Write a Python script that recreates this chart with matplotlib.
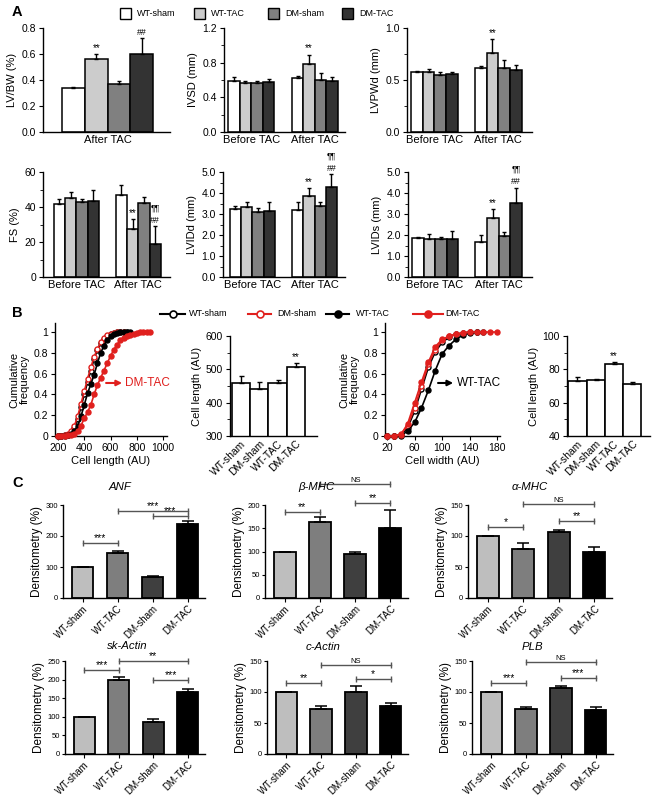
import matplotlib
matplotlib.use('Agg')
import matplotlib.pyplot as plt
from matplotlib.lines import Line2D
from matplotlib.patches import Rectangle
from matplotlib.ticker import MultipleLocator, FormatStrFormatter

plt.rcParams['font.family'] = ['Liberation Sans', 'DejaVu Sans']
plt.rcParams['axes.spines.top'] = False
plt.rcParams['axes.spines.right'] = False
plt.rcParams['axes.linewidth'] = 1.0

W, H = 660, 798
RED = '#e0201e'

# ---------------- panel A: echo (mean, SEM) ----------------
groups_a = ['WT-sham', 'WT-TAC', 'DM-sham', 'DM-TAC']
colors_a = ['#ffffff', '#cccccc', '#808080', '#333333']

lvbw = [0.34, 0.56, 0.37, 0.60]
lvbw_err = [0.01, 0.04, 0.02, 0.12]

ivsd_before = [0.59, 0.57, 0.56, 0.58]
ivsd_before_err = [0.04, 0.02, 0.03, 0.03]
ivsd_after = [0.62, 0.78, 0.60, 0.59]
ivsd_after_err = [0.03, 0.11, 0.08, 0.04]

lvpwd_before = [0.58, 0.58, 0.55, 0.56]
lvpwd_before_err = [0.01, 0.03, 0.03, 0.02]
lvpwd_after = [0.62, 0.76, 0.62, 0.60]
lvpwd_after_err = [0.01, 0.13, 0.07, 0.04]

fs_before = [41.5, 45.3, 42.7, 43.4]
fs_before_err = [3.1, 3.5, 1.7, 6.3]
fs_after = [46.9, 27.4, 42.1, 19.0]
fs_after_err = [5.7, 5.6, 3.8, 10.1]

lvidd_before = [3.22, 3.32, 3.10, 3.14]
lvidd_before_err = [0.16, 0.27, 0.17, 0.42]
lvidd_after = [3.19, 3.86, 3.40, 4.30]
lvidd_after_err = [0.37, 0.36, 0.19, 0.59]

lvids_before = [1.87, 1.81, 1.79, 1.79]
lvids_before_err = [0.05, 0.22, 0.13, 0.41]
lvids_after = [1.68, 2.79, 1.95, 3.51]
lvids_after_err = [0.32, 0.43, 0.21, 0.74]

# ---------------- panel B: myocyte size ----------------
cl_x = [200, 225, 250, 275, 300, 325, 350, 375, 400, 425, 450, 475, 500, 525, 550,
        575, 600, 625, 650, 675, 700, 725, 750, 775, 800, 825, 850, 875, 900]
cl_wt_sham = [0, 0, 0.005, 0.01, 0.03, 0.08, 0.16, 0.28, 0.40, 0.52, 0.63, 0.74, 0.83, 0.89,
              0.93, 0.96, 0.98, 0.99, 1, 1, 1, 1]
cl_dm_sham = [0, 0, 0.01, 0.02, 0.05, 0.10, 0.19, 0.31, 0.43, 0.55, 0.66, 0.76, 0.84, 0.90,
              0.94, 0.97, 0.98, 0.99, 1, 1, 1]
cl_wt_tac = [0, 0, 0, 0.01, 0.02, 0.05, 0.10, 0.19, 0.30, 0.41, 0.50, 0.59, 0.70, 0.80,
             0.87, 0.92, 0.96, 0.98, 0.99, 1, 1, 1, 1]
cl_dm_tac = [0, 0, 0, 0.005, 0.01, 0.02, 0.05, 0.10, 0.17, 0.23, 0.30, 0.40, 0.49, 0.56,
             0.63, 0.70, 0.77, 0.83, 0.88, 0.92, 0.94, 0.96, 0.97, 0.98, 0.99, 1, 1, 1, 1]

cw_x = [20, 30, 40, 50, 60, 70, 80, 90, 100, 110, 120, 130, 140, 150, 160, 170, 180]
cw_wt_sham = [0, 0, 0.01, 0.08, 0.24, 0.45, 0.66, 0.81, 0.90, 0.95, 0.98, 0.99, 1, 1]
cw_dm_sham = [0, 0, 0.02, 0.10, 0.27, 0.48, 0.69, 0.83, 0.92, 0.96, 0.98, 0.99, 1]
cw_wt_tac = [0, 0, 0, 0.05, 0.13, 0.27, 0.44, 0.63, 0.79, 0.87, 0.93, 0.97, 0.99, 1, 1]
cw_dm_tac = [0, 0, 0.01, 0.12, 0.32, 0.52, 0.71, 0.86, 0.93, 0.96, 0.98, 0.99, 1, 1, 1, 1, 1]

groups_b = ['WT-sham', 'DM-sham', 'WT-TAC', 'DM-TAC']
cell_len = [460, 442, 459, 506]
cell_len_err = [20, 20, 8, 12]
cell_wid = [72.8, 73.6, 83.1, 71.2]
cell_wid_err = [2.8, 0.8, 1.2, 1.4]

# ---------------- panel C: western blots ----------------
groups_c = ['WT-sham', 'WT-TAC', 'DM-sham', 'DM-TAC']
colors_c = ['#bebebe', '#7e7e7e', '#3f3f3f', '#000000']
anf = [100, 145, 69, 240]
anf_err = [0, 8, 3, 10]
bmhc = [100, 163, 94, 150]
bmhc_err = [0, 12, 6, 40]
amhc = [100, 79, 107, 75]
amhc_err = [0, 10, 3, 8]
skactin = [100, 200, 86, 168]
skactin_err = [0, 6, 7, 7]
cactin = [100, 72, 100, 78]
cactin_err = [0, 6, 10, 5]
plb = [100, 73, 106, 71]
plb_err = [0, 3, 4, 5]

fig = plt.figure(figsize=(W / 100, H / 100), dpi=100)


def add_ax(l, t, r, b):
    return fig.add_axes([l / W, 1 - b / H, (r - l) / W, (b - t) / H])


def a_panel(box, series, ylim, major, minor, fmt, ylabel, marks, xlim):
    ax = add_ax(*box)
    names = ['Before TAC', 'After TAC'] if len(series) == 2 else ['After TAC']
    centers = []
    for g, (vals, errs) in enumerate(series):
        xs = [g * 5.5 + i for i in range(4)]
        centers.append(g * 5.5 + 1.5)
        ax.bar(xs, vals, width=1, color=colors_a, edgecolor='k', linewidth=1.1, zorder=2)
        ax.errorbar(xs, vals, yerr=[[0] * 4, errs], fmt='none', ecolor='k',
                    elinewidth=1, capsize=1.5, capthick=1, zorder=3)
        for i in range(4):
            for k, txt in enumerate(marks.get((g, i), [])):
                ax.annotate(txt, (xs[i], vals[i] + errs[i]), xytext=(0, 1 + 9 * k),
                            textcoords='offset points', ha='center', va='bottom',
                            fontsize=7 if txt == '**' else 6.3, annotation_clip=False)
    ax.set_xlim(*xlim)
    ax.set_ylim(*ylim)
    ax.set_xticks(centers)
    ax.set_xticklabels(names, fontsize=8)
    ax.tick_params(axis='x', length=0, pad=2)
    ax.yaxis.set_major_locator(MultipleLocator(major))
    ax.yaxis.set_minor_locator(MultipleLocator(minor))
    ax.yaxis.set_major_formatter(FormatStrFormatter(fmt))
    ax.tick_params(axis='y', which='major', labelsize=7.5, length=3, pad=2)
    ax.tick_params(axis='y', which='minor', length=2)
    ax.set_ylabel(ylabel, fontsize=8, labelpad=3)
    return ax


a_panel((43, 28, 170, 132), [(lvbw, lvbw_err)], (0, 0.8), 0.2, 0.2, '%.1f',
        'LV/BW (%)', {(0, 1): ['**'], (0, 3): ['##']}, (-1.34, 4.24))
a_panel((224, 28, 345, 132), [(ivsd_before, ivsd_before_err), (ivsd_after, ivsd_after_err)],
        (0, 1.2), 0.4, 0.2, '%.1f', 'IVSD (mm)', {(1, 1): ['**']}, (-0.85, 9.6))
a_panel((407, 28, 532, 132), [(lvpwd_before, lvpwd_before_err), (lvpwd_after, lvpwd_after_err)],
        (0, 1.0), 0.5, 0.25, '%.1f', 'LVPWd (mm)', {(1, 1): ['**']}, (-0.85, 9.9))
a_panel((43, 172, 170, 277), [(fs_before, fs_before_err), (fs_after, fs_after_err)],
        (0, 60), 20, 10, '%d', 'FS (%)', {(1, 1): ['**'], (1, 3): ['##', '¶¶']}, (-1.45, 9.8))
a_panel((223, 172, 345, 277), [(lvidd_before, lvidd_before_err), (lvidd_after, lvidd_after_err)],
        (0, 5.0), 1.0, 0.5, '%.1f', 'LVIDd (mm)', {(1, 1): ['**'], (1, 3): ['##', '¶¶']}, (-1.1, 9.7))
a_panel((408, 172, 532, 277), [(lvids_before, lvids_before_err), (lvids_after, lvids_after_err)],
        (0, 5.0), 1.0, 0.5, '%.1f', 'LVIDs (mm)', {(1, 1): ['**'], (1, 3): ['##', '¶¶']}, (-0.85, 9.9))

# legend A
for x, name, col in zip([120, 194, 268, 342], groups_a, colors_a):
    fig.add_artist(Rectangle((x / W, 1 - 19 / H), 11 / W, 11 / H, transform=fig.transFigure,
                             facecolor=col, edgecolor='k', linewidth=1))
    fig.text((x + 17) / W, 1 - 13.5 / H, name, fontsize=6.5, va='center')

# ---------------- B ----------------
cum_styles = [('k', 'white'), (RED, 'white'), ('k', 'k'), (RED, RED)]


def cum_panel(box, xs, curves, xlim, xticks, xlabel, arrow, label, col):
    ax = add_ax(*box)
    for ys, (c, face) in zip(curves, cum_styles):
        ax.plot(xs[:len(ys)], ys, '-o', color=c, mfc=face, mec=c, ms=3.6, mew=1,
                lw=1.2, clip_on=False, zorder=3)
    ax.set_xlim(*xlim)
    ax.set_ylim(0, 1.087)
    ax.set_xticks(xticks)
    ax.set_yticks([0, 0.2, 0.4, 0.6, 0.8, 1])
    ax.set_yticklabels(['0', '0.2', '0.4', '0.6', '0.8', '1'])
    ax.tick_params(labelsize=7.5, length=3, pad=2)
    ax.set_xlabel(xlabel, fontsize=8, labelpad=2)
    ax.set_ylabel('Cumulative\nfrequency', fontsize=8, labelpad=3, linespacing=1.0)
    ax.annotate('', xy=(arrow[1], 0.51), xytext=(arrow[0], 0.51),
                arrowprops=dict(arrowstyle='-|>', color=col, lw=1.5, mutation_scale=8,
                                shrinkA=0, shrinkB=0))
    ax.text(arrow[2], 0.51, label, color=col, fontsize=8.5, va='center')


cum_panel((55, 323, 167, 436), cl_x, [cl_wt_sham, cl_dm_sham, cl_wt_tac, cl_dm_tac],
          (177, 1030), [200, 400, 600, 800, 1000], 'Cell length (AU)', (566, 688, 711), 'DM-TAC', RED)
cum_panel((385, 323, 500, 436), cw_x, [cw_wt_sham, cw_dm_sham, cw_wt_tac, cw_dm_tac],
          (17, 184), [20, 60, 100, 140, 180], 'Cell width (AU)', (94, 116, 121), 'WT-TAC', 'k')


def size_bars(box, vals, errs, ylim, major, minor, star, xlim):
    ax = add_ax(*box)
    xs = list(range(4))
    ax.bar(xs, vals, width=1, color='white', edgecolor='k', linewidth=1.2, zorder=2)
    ax.errorbar(xs, vals, yerr=[[0] * 4, errs], fmt='none', ecolor='k', elinewidth=1,
                capsize=1.8, capthick=1, zorder=3)
    ax.annotate('**', (xs[star], vals[star] + errs[star]), xytext=(0, 1), textcoords='offset points',
                ha='center', va='bottom', fontsize=7)
    ax.set_xlim(*xlim)
    ax.set_ylim(*ylim)
    ax.yaxis.set_major_locator(MultipleLocator(major))
    ax.yaxis.set_minor_locator(MultipleLocator(minor))
    ax.tick_params(axis='y', labelsize=7.5, length=3, pad=2)
    ax.tick_params(axis='y', which='minor', length=2)
    ax.set_xticks(xs)
    ax.set_xticklabels(groups_b, rotation=45, ha='right', rotation_mode='anchor', fontsize=7.5)
    ax.tick_params(axis='x', length=0, pad=2)
    ax.set_ylabel('Cell length (AU)', fontsize=8, labelpad=3)


size_bars((230, 336, 317, 436), cell_len, cell_len_err, (300, 600), 100, 50, 3, (-0.6, 4.15))
size_bars((567, 336, 650, 436), cell_wid, cell_wid_err, (40, 100), 20, 10, 2, (-0.57, 3.97))

# legend B
legend_b = [(160, 185, 189), (248, 271, 277), (326, 349, 356), (413, 443, 445)]
for (x0, x1, xt), name, (c, face) in zip(legend_b, groups_b, cum_styles):
    yy = 1 - 314 / H
    fig.add_artist(Line2D([x0 / W, x1 / W], [yy, yy], color=c, lw=1.5, transform=fig.transFigure))
    fig.add_artist(Line2D([(x0 + x1) / 2 / W], [yy], marker='o', ms=5, mfc=face, mec=c, mew=1.2,
                          color=c, transform=fig.transFigure))
    fig.text(xt / W, yy, name, fontsize=6.5, va='center')

# ---------------- C ----------------


def c_panel(box, vals, errs, ymax, ystep, brackets, title, title_px):
    ax = add_ax(*box)
    xs = list(range(4))
    ax.bar(xs, vals, width=0.62, color=colors_c, edgecolor='k', linewidth=1.3, zorder=2)
    ax.errorbar(xs, vals, yerr=[[0] * 4, errs], fmt='none', ecolor='k', elinewidth=1.1,
                capsize=4, capthick=1.1, zorder=3)
    ax.set_xlim(-0.56, 3.5)
    ax.set_ylim(0, ymax)
    ax.set_yticks(list(range(0, ymax + 1, ystep)))
    ax.tick_params(axis='y', labelsize=5.5, length=2.5, width=0.8, pad=1)
    ax.set_xticks(xs)
    ax.set_xticklabels(groups_c, rotation=45, ha='right', rotation_mode='anchor', fontsize=7)
    ax.tick_params(axis='x', length=3, pad=1)
    ax.set_ylabel('Densitometry (%)', fontsize=8.5, labelpad=2)
    for x1, x2, y, txt in brackets:
        ax.plot([x1, x2], [y, y], color='#555555', lw=1, clip_on=False)
        ax.plot([x1, x2], [y, y], ls='none', marker='|', ms=4, mew=1, color='#555555', clip_on=False)
        ax.text((x1 + x2) / 2, y, txt, ha='center', va='bottom', clip_on=False,
                fontsize=5.5 if txt == 'NS' else 7.5)
    fig.text(title_px[0] / W, 1 - title_px[1] / H, title, fontsize=8.2, style='italic',
             ha='center', va='center')


c_panel((63, 505, 205, 598), anf, anf_err, 300, 100,
        [(0, 1, 177, '***'), (1, 3, 281, '***'), (2, 3, 265, '***')], 'ANF', (120, 487))
c_panel((265, 505, 408, 598), bmhc, bmhc_err, 200, 50,
        [(0, 1, 184, '**'), (1, 3, 245, 'NS'), (2, 3, 205, '**')], 'β-MHC', (316, 487))
c_panel((468, 505, 612, 598), amhc, amhc_err, 150, 50,
        [(0, 1, 114, '*'), (1, 3, 151, 'NS'), (2, 3, 124, '**')], 'α-MHC', (530, 487))
c_panel((65, 661, 205, 754), skactin, skactin_err, 250, 50,
        [(0, 1, 225, '***'), (1, 3, 250, '**'), (2, 3, 198, '***')], 'sk-Actin', (127, 646))
c_panel((267, 661, 408, 754), cactin, cactin_err, 150, 50,
        [(0, 1, 115, '**'), (1, 3, 144, 'NS'), (2, 3, 121, '*')], 'c-Actin', (323, 647))
c_panel((472, 661, 613, 754), plb, plb_err, 150, 50,
        [(0, 1, 115, '***'), (1, 3, 148, 'NS'), (2, 3, 122, '***')], 'PLB', (532, 647))

for letter, y in [('A', 12), ('B', 313), ('C', 483)]:
    fig.text(12 / W, 1 - y / H, letter, fontsize=10.5, fontweight='bold', va='center')

fig.savefig('out.png', dpi=100)
